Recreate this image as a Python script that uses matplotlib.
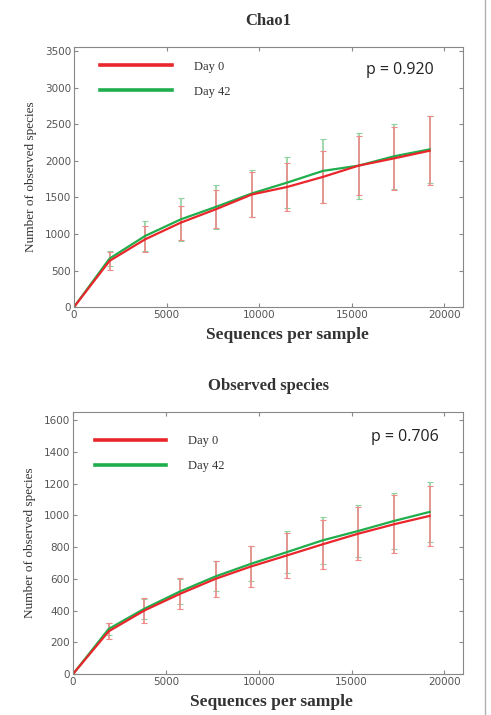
import matplotlib
matplotlib.use("Agg")
import matplotlib.pyplot as plt
from matplotlib.lines import Line2D

# rarefaction depths
depth = [0, 1920, 3840, 5760, 7680, 9600, 11520, 13440, 15360, 17280, 19200]

# Chao1
chao_d0 = [0, 632, 927, 1155, 1341, 1541, 1645, 1782, 1936, 2036, 2140]
chao_d0_err = [0, 120, 180, 235, 265, 305, 330, 355, 400, 432, 470]
chao_d42 = [0, 664, 973, 1200, 1373, 1555, 1705, 1864, 1936, 2064, 2159]
chao_d42_err = [0, 104, 204, 295, 304, 320, 345, 441, 450, 445, 455]

# Observed species
obs_d0 = [0, 269, 400, 505, 600, 678, 747, 817, 884, 943, 996]
obs_d0_err = [0, 50, 77, 98, 115, 130, 142, 155, 168, 182, 188]
obs_d42 = [0, 284, 411, 520, 615, 695, 768, 842, 901, 964, 1021]
obs_d42_err = [0, 40, 63, 80, 95, 110, 133, 147, 166, 177, 190]

labels = ["Day 0", "Day 42"]
pvals = ["p = 0.920", "p = 0.706"]
titles = ["Chao1", "Observed species"]

RED = "#e8262b"
GREEN = "#1fae4b"
SERIF = ["Liberation Serif", "DejaVu Serif"]


def panel(ax, d0, e0, d42, e42, ymax, yticks, title, ptxt, legpos, xlab_x, ppos):
    ax.errorbar(depth, d42, yerr=e42, color=GREEN, lw=1.6, ecolor="#8fd29f",
                elinewidth=1.2, capsize=2, capthick=0.8)
    ax.errorbar(depth, d0, yerr=e0, color=RED, lw=1.6, ecolor="#f08a8a",
                elinewidth=1.2, capsize=2, capthick=0.8)
    ax.set_xlim(0, 21000)
    ax.set_ylim(0, ymax)
    ax.set_xticks([0, 5000, 10000, 15000, 20000])
    ax.set_yticks(yticks)
    ax.tick_params(direction="in", top=True, right=True, labelsize=7.5,
                   labelcolor="#555555", color="#888888", length=3, pad=2)
    for s in ax.spines.values():
        s.set_color("#888888")
    ax.set_title(title, family=SERIF, fontsize=12, fontweight="bold",
                 color="#333333", pad=16)
    ax.set_xlabel("Sequences per sample", family=SERIF, fontsize=12.5, fontweight="bold",
                  color="#333333")
    ax.xaxis.set_label_coords(xlab_x, -0.077)
    ax.set_ylabel("Number of observed species", family=SERIF, fontsize=9.5,
                  color="#333333", labelpad=6)
    handles = [Line2D([], [], color=RED, lw=2.6), Line2D([], [], color=GREEN, lw=2.6)]
    leg = ax.legend(handles, labels, loc="upper left", frameon=False, handlelength=5.7,
                    handletextpad=1.75, labelspacing=1.05, borderpad=0,
                    prop={"family": SERIF, "size": 9}, bbox_to_anchor=legpos)
    for t in leg.get_texts():
        t.set_color("#333333")
    ax.text(ppos[0], ppos[1], ptxt, transform=ax.transAxes, ha="center", va="center",
            family=["Open Sans", "DejaVu Sans"], fontsize=11.5, color="#222222")


fig = plt.figure(figsize=(4.91, 7.15), dpi=100)
ax1 = fig.add_axes([0.1507, 0.5706, 0.7923, 0.3636])
ax2 = fig.add_axes([0.1487, 0.0573, 0.7943, 0.3664])

panel(ax1, chao_d0, chao_d0_err, chao_d42, chao_d42_err, 3560,
      [0, 500, 1000, 1500, 2000, 2500, 3000, 3500], titles[0], pvals[0],
      (0.052, 0.972), 0.548, (0.838, 0.91))
panel(ax2, obs_d0, obs_d0_err, obs_d42, obs_d42_err, 1650,
      [0, 200, 400, 600, 800, 1000, 1200, 1400, 1600], titles[1], pvals[1],
      (0.04, 0.935), 0.51, (0.85, 0.905))

# frame line on the right edge of the picture
fig.add_artist(Line2D([0.988, 0.988], [0, 1], color="#b0b0b0", lw=1.0,
                      transform=fig.transFigure))

fig.savefig("out.png", dpi=100)
